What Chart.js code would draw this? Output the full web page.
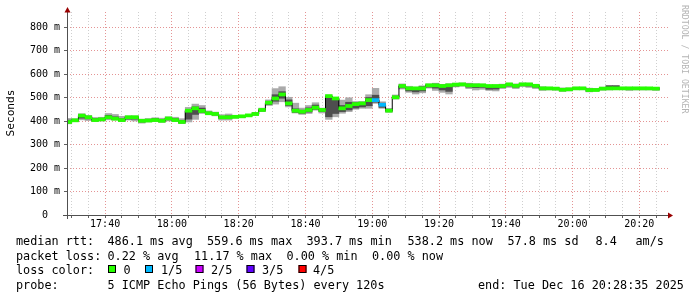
<!DOCTYPE html>
<html lang="en">
<head>
<meta charset="UTF-8">
<title>median rtt</title>
<script src="https://cdn.jsdelivr.net/npm/chart.js@4/dist/chart.umd.min.js"></script>
<style>
    html, body { margin: 0; padding: 0; background: #fff; }
    #wrap { width: 697px; height: 297px; }
</style>
</head>
<body>
<div id="wrap"><canvas id="rtt" width="697" height="297"></canvas></div>
<script>
// window shown and 2 minute steps (first step starts 17:28)
const windowStart = '17:28:35';
const windowEnd = '20:28:35';
const firstStep = '17:28';
const stepMinutes = 2;

// median rtt per step, ms
const median = [
    396, 403, 423, 416, 404, 407, 416, 410, 404, 416,
    416, 401, 402, 404, 401, 411, 404, 396, 444, 454,
    443, 433, 430, 416, 416, 418, 420, 424, 430, 447,
    478, 496, 513, 475, 444, 440, 447, 457, 447, 506,
    496, 454, 464, 472, 475, 489, 489, 469, 444, 501,
    549, 539, 539, 539, 552, 552, 549, 552, 555, 556,
    552, 552, 552, 549, 549, 549, 556, 550, 556, 556,
    550, 539, 539, 538, 533, 535, 539, 539, 532, 532,
    538, 539, 539, 539, 539, 539, 539, 539, 538
];
// smoke: fastest, 2nd, 4th and slowest of the 5 pings, ms
const pingMin = [
    388, 397, 405, 402, 399, 400, 405, 404, 398, 404,
    400, 391, 396, 398, 394, 400, 398, 389, 396, 407,
    432, 428, 422, 404, 404, 412, 414, 419, 424, 440,
    466, 472, 482, 460, 434, 428, 432, 446, 434, 407,
    418, 433, 440, 450, 454, 454, 475, 454, 437, 493,
    536, 522, 515, 520, 540, 530, 522, 515, 545, 548,
    538, 532, 535, 530, 528, 538, 543, 538, 546, 543,
    538, 530, 532, 531, 526, 528, 533, 533, 524, 527,
    531, 532, 533, 533, 530, 532, 532, 532, 530
];
const pingLow = [
    392, 399, 412, 409, 401, 403, 410, 406, 400, 408,
    408, 396, 399, 401, 397, 405, 400, 392, 408, 428,
    437, 430, 426, 410, 412, 414, 416, 420, 426, 443,
    470, 484, 497, 466, 437, 433, 438, 450, 440, 418,
    432, 440, 447, 455, 460, 465, 480, 458, 440, 496,
    541, 528, 524, 528, 544, 540, 532, 526, 549, 551,
    544, 542, 543, 535, 536, 542, 549, 544, 551, 549,
    544, 535, 535, 534, 529, 531, 536, 535, 527, 529,
    534, 535, 536, 536, 534, 536, 536, 536, 534
];
const pingHigh = [
    404, 407, 427, 420, 410, 412, 424, 418, 410, 418,
    419, 404, 406, 410, 407, 414, 410, 402, 447, 460,
    455, 438, 434, 420, 422, 420, 422, 426, 434, 450,
    484, 512, 525, 490, 452, 446, 456, 468, 452, 503,
    496, 466, 480, 478, 478, 500, 510, 476, 448, 506,
    553, 543, 542, 546, 555, 557, 553, 556, 558, 559,
    557, 556, 555, 551, 552, 553, 559, 555, 559, 559,
    553, 543, 542, 541, 537, 539, 542, 542, 536, 536,
    542, 550, 550, 542, 542, 542, 542, 542, 541
];
const pingMax = [
    411, 410, 431, 424, 415, 416, 432, 428, 420, 422,
    422, 408, 411, 414, 412, 418, 416, 410, 458, 472,
    466, 443, 438, 427, 430, 422, 424, 428, 436, 455,
    490, 538, 546, 501, 476, 455, 466, 478, 455, 511,
    497, 489, 499, 483, 483, 512, 539, 482, 454, 511,
    558, 548, 544, 550, 558, 561, 556, 559, 561, 562,
    561, 559, 557, 553, 554, 557, 561, 558, 562, 561,
    556, 546, 544, 543, 541, 541, 544, 544, 540, 539,
    544, 552, 552, 544, 544, 544, 544, 543, 543
];
// lost pings (of 5) per step
const lostPings = [
    0, 0, 0, 0, 0, 0, 0, 0, 0, 0,
    0, 0, 0, 0, 0, 0, 0, 0, 0, 0,
    0, 0, 0, 0, 0, 0, 0, 0, 0, 0,
    0, 0, 0, 0, 0, 0, 0, 0, 0, 0,
    0, 0, 0, 0, 0, 0, 1, 1, 0, 0,
    0, 0, 0, 0, 0, 0, 0, 0, 0, 0,
    0, 0, 0, 0, 0, 0, 0, 0, 0, 0,
    0, 0, 0, 0, 0, 0, 0, 0, 0, 0,
    0, 0, 0, 0, 0, 0, 0, 0, 0
];

const xTickLabels = ['17:40', '18:00', '18:20', '18:40', '19:00', '19:20', '19:40', '20:00', '20:20'];
const yTickValues = [0, 100, 200, 300, 400, 500, 600, 700, 800];
const yTickLabels = ['0  ', '100 m', '200 m', '300 m', '400 m', '500 m', '600 m', '700 m', '800 m'];
const yMax = 864;

const lossLabels = ['0', '1/5', '2/5', '3/5', '4/5'];
const lossColors = ['#26ff00', '#00b8ff', '#cc00ff', '#6000ff', '#ff0000'];

const legendRows = [
    ['median rtt:', '486.1 ms avg', '559.6 ms max', '393.7 ms min', '538.2 ms now', '57.8 ms sd', '8.4', 'am/s'],
    ['packet loss:', '0.22 % avg', '11.17 % max', '0.00 % min', '0.00 % now'],
    ['loss color:'],
    ['probe:', '5 ICMP Echo Pings (56 Bytes) every 120s', 'end: Tue Dec 16 20:28:35 2025']
];

function toMin(s) {
    const p = s.split(':').map(Number);
    return p[0] * 60 + p[1] + (p[2] || 0) / 60;
}

const tStart = toMin(windowStart);
const tEnd = toMin(windowEnd);
const t0 = toMin(firstStep);
const stepCenter = i => t0 + stepMinutes * (i + 0.5);

const xMajor = xTickLabels.map(toMin);
const xGrid = [];
for (let t = Math.ceil(tStart / 5) * 5; t <= tEnd; t += 5) xGrid.push(t);
const yGrid = [];
for (let v = 0; v <= yMax; v += 50) yGrid.push(v);

const halfBand = 6.5; // thickness of the coloured median band, ms
const bandData = median.map((v, i) => ({ x: stepCenter(i), y: [v - halfBand, v + halfBand] }));
const lineData = median.map((v, i) => ({ x: stepCenter(i), y: v }));
const innerSmoke = pingLow.map((v, i) => ({ x: stepCenter(i), y: [v, pingHigh[i]] }));
const outerSmoke = pingMin.map((v, i) => ({ x: stepCenter(i), y: [v, pingMax[i]] }));

const mono = '"DejaVu Sans Mono", monospace';
const barOpts = { grouped: false, barPercentage: 1, categoryPercentage: 1, borderWidth: 0 };

const decor = {
    id: 'decor',
    afterDraw(chart) {
        const ctx = chart.ctx;
        const a = chart.chartArea;
        ctx.save();
        // axes
        ctx.strokeStyle = '#505050';
        ctx.lineWidth = 1;
        ctx.beginPath();
        ctx.moveTo(a.left - 4, a.bottom + 0.5);
        ctx.lineTo(a.right + 2, a.bottom + 0.5);
        ctx.moveTo(a.left + 0.5, a.bottom + 4);
        ctx.lineTo(a.left + 0.5, a.top - 2);
        ctx.stroke();
        ctx.fillStyle = '#990000';
        ctx.beginPath();
        ctx.moveTo(a.left + 0.5, a.top - 5);
        ctx.lineTo(a.left - 2.5, a.top + 0.5);
        ctx.lineTo(a.left + 3.5, a.top + 0.5);
        ctx.fill();
        ctx.beginPath();
        ctx.moveTo(a.right + 5, a.bottom + 0.5);
        ctx.lineTo(a.right, a.bottom - 2.5);
        ctx.lineTo(a.right, a.bottom + 3.5);
        ctx.fill();

        // y title
        ctx.fillStyle = '#000';
        ctx.font = '11.2px ' + mono;
        ctx.textAlign = 'center';
        ctx.textBaseline = 'middle';
        ctx.translate(11, 113);
        ctx.rotate(-Math.PI / 2);
        ctx.fillText('Seconds', 0, 0);
        ctx.setTransform(1, 0, 0, 1, 0, 0);

        // watermark
        ctx.fillStyle = '#b4b4b4';
        ctx.font = '8.2px ' + mono;
        ctx.textAlign = 'left';
        ctx.translate(684, 5);
        ctx.rotate(Math.PI / 2);
        ctx.fillText('RRDTOOL / TOBI OETIKER', 0, 0);
        ctx.setTransform(1, 0, 0, 1, 0, 0);

        // legend
        ctx.fillStyle = '#000';
        ctx.font = '11.8px ' + mono;
        ctx.textBaseline = 'alphabetic';
        const rowX = [
            [16, 107.5, 207, 306.5, 407.5, 507.5, 595.5, 635.5],
            [16, 107.5, 194, 286.5, 372],
            [16],
            [16, 107.5, 478]
        ];
        const rowY = [245, 259.5, 274, 288.5];
        legendRows.forEach((row, r) => {
            row.forEach((txt, c) => ctx.fillText(txt, rowX[r][c], rowY[r]));
        });
        const boxX = [108, 145, 195.5, 246.5, 298.5];
        const labX = [123.5, 161, 211, 262, 313];
        lossLabels.forEach((lab, i) => {
            ctx.fillStyle = lossColors[i];
            ctx.fillRect(boxX[i], 265, 8, 8);
            ctx.strokeStyle = '#000';
            ctx.strokeRect(boxX[i] + 0.5, 265.5, 7, 7);
            ctx.fillStyle = '#000';
            ctx.fillText(lab, labX[i], rowY[2]);
        });
        ctx.restore();
    }
};

new Chart(document.getElementById('rtt'), {
    type: 'bar',
    data: {
        datasets: [
            Object.assign({ type: 'bar', data: bandData, backgroundColor: lostPings.map(n => lossColors[n]), order: 0 }, barOpts),
            { type: 'line', data: lineData, borderColor: '#000', borderWidth: 1, stepped: 'middle', pointRadius: 0, order: 1 },
            Object.assign({ type: 'bar', data: innerSmoke, backgroundColor: '#4e4e4e', order: 2 }, barOpts),
            Object.assign({ type: 'bar', data: outerSmoke, backgroundColor: '#aaaaaa', order: 3 }, barOpts)
        ]
    },
    options: {
        responsive: false,
        animation: false,
        devicePixelRatio: 1,
        layout: { padding: { left: 0, right: 29, top: 12, bottom: 0 } },
        plugins: { legend: { display: false }, tooltip: { enabled: false } },
        scales: {
            x: {
                type: 'linear',
                min: tStart,
                max: tEnd,
                offset: false,
                afterBuildTicks: s => { s.ticks = xGrid.map(v => ({ value: v })); },
                afterFit: s => { s.height = 82; },
                ticks: {
                    autoSkip: false,
                    maxRotation: 0,
                    padding: 0,
                    color: '#000',
                    font: { family: mono, size: 10 },
                    callback: v => { const i = xMajor.indexOf(v); return i >= 0 ? xTickLabels[i] : ''; }
                },
                grid: {
                    offset: false,
                    color: c => xMajor.includes(c.tick && c.tick.value) ? '#e49494' : '#cfcfcf',
                    tickColor: '#606060',
                    tickLength: 3,
                    tickBorderDash: []
                },
                border: { display: false, dash: [1, 2] }
            },
            y: {
                min: 0,
                max: yMax,
                afterBuildTicks: s => { s.ticks = yGrid.map(v => ({ value: v })); },
                afterFit: s => { s.width = 67; },
                ticks: {
                    padding: 4,
                    color: '#000',
                    font: { family: mono, size: 10 },
                    callback: v => { const i = yTickValues.indexOf(v); return i >= 0 ? yTickLabels[i] : ''; }
                },
                grid: {
                    color: c => yTickValues.includes(c.tick && c.tick.value) ? '#e49494' : '#cfcfcf',
                    tickColor: '#606060',
                    tickLength: 3,
                    tickBorderDash: []
                },
                border: { display: false, dash: [1, 2] }
            }
        }
    },
    plugins: [decor]
});
</script>
</body>
</html>
